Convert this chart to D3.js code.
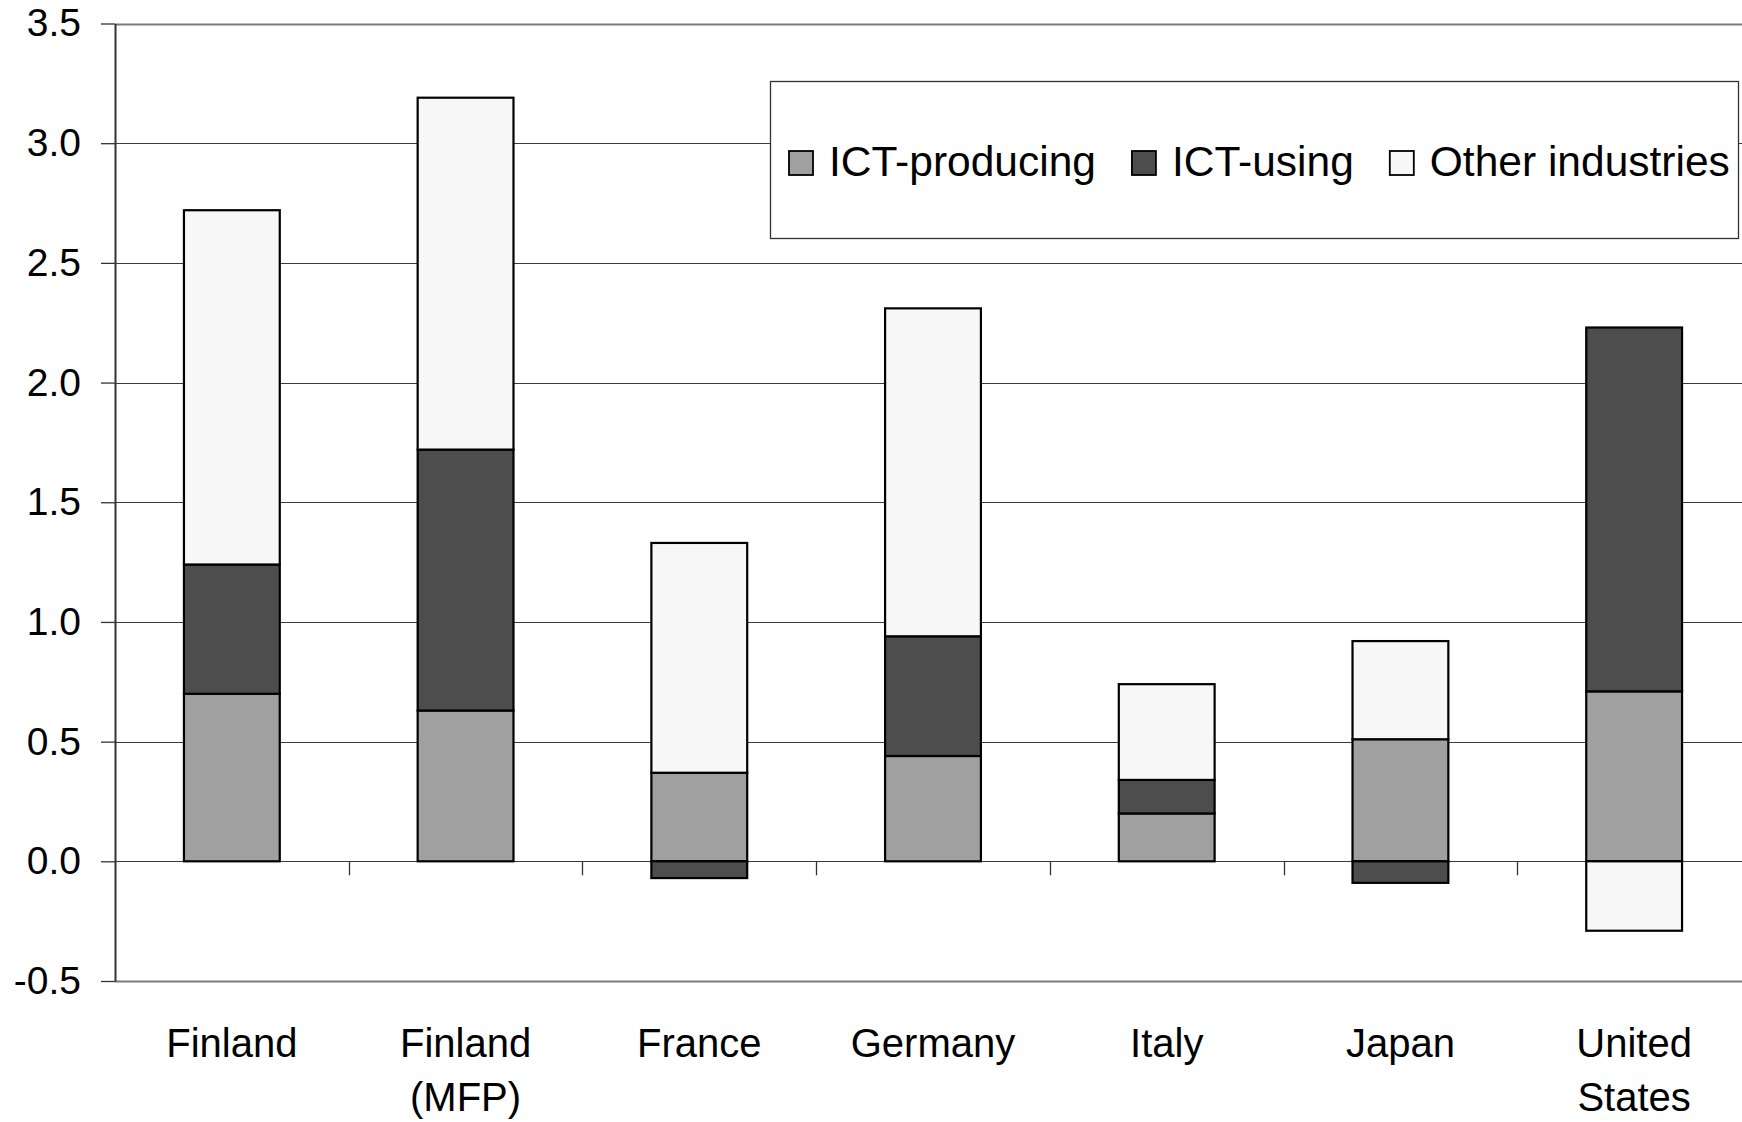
<!DOCTYPE html>
<html>
<head>
<meta charset="utf-8">
<script src="https://cdn.jsdelivr.net/npm/d3@7"></script>
<style>
  html, body { margin: 0; padding: 0; background: #fff; overflow: hidden; }
  svg { display: block; font-family: "Liberation Sans", Arial, Helvetica, sans-serif; }
</style>
</head>
<body>
<svg id="chart" width="1742" height="1122"></svg>
<script>
// ---- Data ----
const categories = ["Finland", "Finland\n(MFP)", "France", "Germany", "Italy", "Japan", "United\nStates"];
const seriesNames = ["ICT-producing", "ICT-using", "Other industries"];
const ictProducing = [0.70, 0.63, 0.37, 0.44, 0.20, 0.51, 0.71];
const ictUsing     = [0.54, 1.09, -0.07, 0.50, 0.14, -0.09, 1.52];
const otherInd     = [1.48, 1.47, 0.96, 1.37, 0.40, 0.41, -0.29];
const yTickValues  = [-0.5, 0.0, 0.5, 1.0, 1.5, 2.0, 2.5, 3.0, 3.5];
const yTickLabels  = ["-0.5", "0.0", "0.5", "1.0", "1.5", "2.0", "2.5", "3.0", "3.5"];
const seriesColors = ["#a0a0a0", "#4d4d4d", "#f7f7f7"];

// ---- Layout ----
const plotLeft = 115, plotRight = 1751, plotTop = 23.5, plotBottom = 981;

const svg = d3.select("#chart");

const table = categories.map((c, i) => ({
  cat: c,
  [seriesNames[0]]: ictProducing[i],
  [seriesNames[1]]: ictUsing[i],
  [seriesNames[2]]: otherInd[i]
}));

const x = d3.scaleBand().domain(categories).range([plotLeft, plotRight]).padding(0);
const y = d3.scaleLinear().domain([-0.5, 3.5]).range([plotBottom, plotTop]);
const color = d3.scaleOrdinal().domain(seriesNames).range(seriesColors);

const stacked = d3.stack().keys(seriesNames).offset(d3.stackOffsetDiverging)(table);

// gridlines
svg.append("g").selectAll("line").data(yTickValues).join("line")
  .attr("x1", plotLeft).attr("x2", plotRight)
  .attr("y1", d => Math.round(y(d)) + 0.5).attr("y2", d => Math.round(y(d)) + 0.5)
  .attr("stroke", d => (d === -0.5 || d === 3.5) ? "#7a7a7a" : "#3a3a3a")
  .attr("stroke-width", d => (d === -0.5 || d === 3.5) ? 2 : 1.2);

// bars
const bw = x.bandwidth();
const barW = bw * 0.41;
svg.append("g").selectAll("g").data(stacked).join("g")
  .attr("fill", d => color(d.key))
  .selectAll("rect").data(d => d).join("rect")
  .attr("x", d => x(d.data.cat) + (bw - barW) / 2)
  .attr("width", barW)
  .attr("y", d => y(Math.max(d[0], d[1])))
  .attr("height", d => Math.abs(y(d[0]) - y(d[1])))
  .attr("stroke", "#000")
  .attr("stroke-width", 2.2);

// x category tick marks below zero line
svg.append("g").selectAll("line").data(categories.slice(1)).join("line")
  .attr("x1", d => Math.round(x(d)) + 0.5).attr("x2", d => Math.round(x(d)) + 0.5)
  .attr("y1", y(0)).attr("y2", y(0) + 14)
  .attr("stroke", "#333").attr("stroke-width", 1.3);

// y axis
const yAxis = d3.axisLeft(y)
  .tickValues(yTickValues)
  .tickFormat((d, i) => yTickLabels[i])
  .tickSize(14)
  .tickSizeOuter(0)
  .tickPadding(20);
const gy = svg.append("g").attr("transform", `translate(${plotLeft},0)`).call(yAxis);
gy.select(".domain").attr("stroke", "#333").attr("stroke-width", 2);
gy.selectAll(".tick line").attr("stroke", "#333").attr("stroke-width", 1.3);
gy.selectAll(".tick text")
  .attr("fill", "#000")
  .style("font-size", "39px")
  .style("font-family", "'Liberation Sans', Arial, sans-serif");

// x labels
const xl = svg.append("g").selectAll("text").data(categories).join("text")
  .attr("text-anchor", "middle")
  .attr("fill", "#000")
  .style("font-size", "40px");
xl.each(function(d) {
  const lines = d.split("\n");
  const t = d3.select(this);
  lines.forEach((ln, i) => {
    t.append("tspan")
      .attr("x", x(d) + bw / 2)
      .attr("y", 1057 + i * 54)
      .text(ln);
  });
});

// legend
const legend = svg.append("g");
legend.append("rect")
  .attr("x", 770.5).attr("y", 81.5).attr("width", 968).attr("height", 157)
  .attr("fill", "#fff").attr("stroke", "#333").attr("stroke-width", 1.3);
let lx = 789;
seriesNames.forEach((name, i) => {
  legend.append("rect")
    .attr("x", lx).attr("y", 151).attr("width", 24).attr("height", 24)
    .attr("fill", color(name)).attr("stroke", "#000").attr("stroke-width", 1.8);
  const t = legend.append("text")
    .attr("x", lx + 40).attr("y", 176)
    .attr("fill", "#000")
    .style("font-size", "42.5px")
    .text(name);
  lx = lx + 40 + t.node().getComputedTextLength() + 36;
});
</script>
</body>
</html>
